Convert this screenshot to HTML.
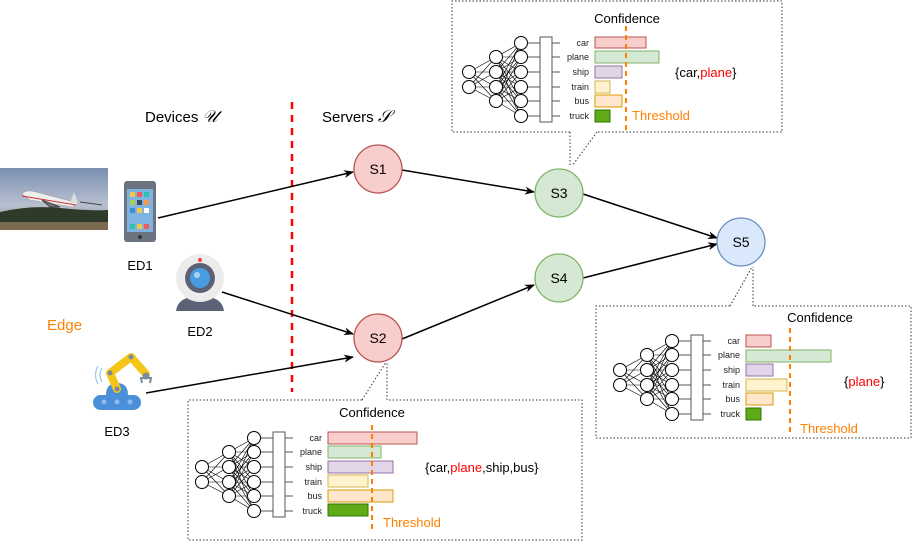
<!DOCTYPE html>
<html><head><meta charset="utf-8"><style>
html,body{margin:0;padding:0;background:#fff;}
svg{display:block;font-family:"Liberation Sans",sans-serif;}
</style></head><body>
<svg width="913" height="542" viewBox="0 0 913 542" xmlns="http://www.w3.org/2000/svg">
<defs>
<marker id="ah" markerWidth="10" markerHeight="8" refX="9" refY="4" orient="auto" markerUnits="userSpaceOnUse">
<path d="M0,0 L10,4 L0,8 L3,4 Z" fill="#000"/>
</marker>
<g id="nn" stroke="#000" stroke-width="0.6" fill="none">
<path d="M-126,30 L-99,15 M-126,30 L-99,30 M-126,30 L-99,45 M-126,30 L-99,59 M-126,45 L-99,15 M-126,45 L-99,30 M-126,45 L-99,45 M-126,45 L-99,59"/>
<path d="M-99,15 L-74,1 M-99,15 L-74,15 M-99,15 L-74,30 M-99,15 L-74,45 M-99,15 L-74,59 M-99,15 L-74,74
M-99,30 L-74,1 M-99,30 L-74,15 M-99,30 L-74,30 M-99,30 L-74,45 M-99,30 L-74,59 M-99,30 L-74,74
M-99,45 L-74,1 M-99,45 L-74,15 M-99,45 L-74,30 M-99,45 L-74,45 M-99,45 L-74,59 M-99,45 L-74,74
M-99,59 L-74,1 M-99,59 L-74,15 M-99,59 L-74,30 M-99,59 L-74,45 M-99,59 L-74,59 M-99,59 L-74,74"/>
<path stroke="#555" stroke-width="1" d="M-74,1 L-55,1 M-74,15 L-55,15 M-74,30 L-55,30 M-74,45 L-55,45 M-74,59 L-55,59 M-74,74 L-55,74 M-43,1 L-35,1 M-43,15 L-35,15 M-43,30 L-35,30 M-43,45 L-35,45 M-43,59 L-35,59 M-43,74 L-35,74"/>
<g fill="#fff" stroke="#000" stroke-width="1">
<circle cx="-126" cy="30" r="6.5"/><circle cx="-126" cy="45" r="6.5"/>
<circle cx="-99" cy="15" r="6.5"/><circle cx="-99" cy="30" r="6.5"/><circle cx="-99" cy="45" r="6.5"/><circle cx="-99" cy="59" r="6.5"/>
<circle cx="-74" cy="1" r="6.5"/><circle cx="-74" cy="15" r="6.5"/><circle cx="-74" cy="30" r="6.5"/><circle cx="-74" cy="45" r="6.5"/><circle cx="-74" cy="59" r="6.5"/><circle cx="-74" cy="74" r="6.5"/>
<rect x="-55" y="-5" width="12" height="85" stroke="#555"/>
</g>
<g fill="#222" stroke="none" font-size="9" text-anchor="end">
<text x="-6" y="4">car</text><text x="-6" y="18">plane</text><text x="-6" y="33">ship</text><text x="-6" y="48">train</text><text x="-6" y="62">bus</text><text x="-6" y="77">truck</text>
</g>
</g>
</defs>

<!-- Panel 1 -->
<path d="M570,132 L452,132 L452,1 L782,1 L782,132 L597,132" fill="none" stroke="#333" stroke-dasharray="1.5,2"/>
<path d="M570,132 L570,166 M597,132 L572,166" fill="none" stroke="#333" stroke-dasharray="1.5,2"/>
<g transform="translate(595,42)">
<use href="#nn"/>
<rect x="0" y="-5" width="51" height="11" fill="#f8cecc" stroke="#b85450"/>
<rect x="0" y="9" width="64" height="12" fill="#d5e8d4" stroke="#82b366"/>
<rect x="0" y="24" width="27" height="12" fill="#e1d5e7" stroke="#9673a6"/>
<rect x="0" y="39" width="15" height="12" fill="#fff2cc" stroke="#d6b656"/>
<rect x="0" y="53" width="27" height="12" fill="#ffe6cc" stroke="#d79b00"/>
<rect x="0" y="68" width="15" height="12" fill="#60a917" stroke="#2d7600"/>
</g>
<line x1="626" y1="26" x2="626" y2="132" stroke="#ff8000" stroke-width="2" stroke-dasharray="5,4"/>
<text x="627" y="23" font-size="13" text-anchor="middle">Confidence</text>
<text x="675" y="77" font-size="13">{car,<tspan fill="#ff0000">plane</tspan>}</text>
<text x="632" y="120" font-size="13" fill="#ff8000">Threshold</text>

<!-- Panel 2 -->
<path d="M362,400 L188,400 L188,540 L582,540 L582,400 L387,400" fill="none" stroke="#333" stroke-dasharray="1.5,2"/>
<path d="M362,400 L386,362 M387,400 L387,363" fill="none" stroke="#333" stroke-dasharray="1.5,2"/>
<g transform="translate(328,437)">
<use href="#nn"/>
<rect x="0" y="-5" width="89" height="12" fill="#f8cecc" stroke="#b85450"/>
<rect x="0" y="9" width="53" height="12" fill="#d5e8d4" stroke="#82b366"/>
<rect x="0" y="24" width="65" height="12" fill="#e1d5e7" stroke="#9673a6"/>
<rect x="0" y="38" width="40" height="12" fill="#fff2cc" stroke="#d6b656"/>
<rect x="0" y="53" width="65" height="12" fill="#ffe6cc" stroke="#d79b00"/>
<rect x="0" y="67" width="40" height="12" fill="#60a917" stroke="#2d7600"/>
</g>
<line x1="372" y1="425" x2="372" y2="530" stroke="#ff8000" stroke-width="2" stroke-dasharray="5,4"/>
<text x="372" y="417" font-size="13" text-anchor="middle">Confidence</text>
<text x="425" y="472" font-size="13">{car,<tspan fill="#ff0000">plane</tspan>,ship,bus}</text>
<text x="383" y="527" font-size="13" fill="#ff8000">Threshold</text>

<!-- Panel 3 -->
<path d="M730,306 L596,306 L596,438 L911,438 L911,306 L753,306" fill="none" stroke="#333" stroke-dasharray="1.5,2"/>
<path d="M730,306 L752,267 M753,306 L753,267" fill="none" stroke="#333" stroke-dasharray="1.5,2"/>
<g transform="translate(746,340)">
<use href="#nn"/>
<rect x="0" y="-5" width="25" height="12" fill="#f8cecc" stroke="#b85450"/>
<rect x="0" y="10" width="85" height="12" fill="#d5e8d4" stroke="#82b366"/>
<rect x="0" y="24" width="27" height="12" fill="#e1d5e7" stroke="#9673a6"/>
<rect x="0" y="39" width="41" height="12" fill="#fff2cc" stroke="#d6b656"/>
<rect x="0" y="53" width="27" height="12" fill="#ffe6cc" stroke="#d79b00"/>
<rect x="0" y="68" width="15" height="12" fill="#60a917" stroke="#2d7600"/>
</g>
<line x1="790" y1="328" x2="790" y2="432" stroke="#ff8000" stroke-width="2" stroke-dasharray="5,4"/>
<text x="820" y="322" font-size="13" text-anchor="middle">Confidence</text>
<text x="844" y="386" font-size="13">{<tspan fill="#ff0000">plane</tspan>}</text>
<text x="800" y="433" font-size="13" fill="#ff8000">Threshold</text>

<!-- Red divider -->
<line x1="292" y1="102" x2="292" y2="392" stroke="#ff0000" stroke-width="2.5" stroke-dasharray="7,6"/>

<!-- headers -->
<text x="145" y="122" font-size="15">Devices <tspan font-family="Liberation Serif,serif" font-style="italic" font-size="17">𝒰</tspan></text>
<text x="322" y="122" font-size="15">Servers <tspan font-family="Liberation Serif,serif" font-style="italic" font-size="17">𝒮</tspan></text>
<text x="47" y="330" font-size="15" fill="#ff8000">Edge</text>
<text x="140" y="270" font-size="13" text-anchor="middle">ED1</text>
<text x="200" y="336" font-size="13" text-anchor="middle">ED2</text>
<text x="117" y="436" font-size="13" text-anchor="middle">ED3</text>

<!-- airplane photo -->
<defs><linearGradient id="sky" x1="0" y1="0" x2="0" y2="1"><stop offset="0" stop-color="#7a8fb0"/><stop offset="0.6" stop-color="#b8c0d0"/><stop offset="1" stop-color="#8a8a80"/></linearGradient></defs>
<rect x="0" y="168" width="108" height="62" fill="url(#sky)"/>
<path d="M0,212 Q30,205 60,208 T108,210 L108,230 L0,230 Z" fill="#2e3a2a"/>
<rect x="0" y="222" width="108" height="8" fill="#7a6a50"/>
<path d="M22,194 Q26,189 36,192 L78,203 L72,207 L30,200 Z" fill="#eee" stroke="#999" stroke-width="0.5"/>
<path d="M22,196 L76,205" stroke="#c33" stroke-width="1"/>
<path d="M70,203 L74,192 L78,203 Z" fill="#ddd"/>
<path d="M42,200 L60,207 L50,207 Z M80,202 L102,205" stroke="#444" fill="#777" stroke-width="1"/>

<!-- phone -->
<rect x="124" y="181" width="32" height="61" rx="3" fill="#6b7280"/>
<rect x="127" y="189" width="26" height="43" fill="#7fb3e0"/>
<g>
<rect x="130" y="192" width="5" height="5" fill="#f5c84a"/><rect x="137" y="192" width="5" height="5" fill="#ef5a5a"/><rect x="144" y="192" width="5" height="5" fill="#2bc1b5"/>
<rect x="130" y="200" width="5" height="5" fill="#a6d05a"/><rect x="137" y="200" width="5" height="5" fill="#3b4a5c"/><rect x="144" y="200" width="5" height="5" fill="#f59a4a"/>
<rect x="130" y="208" width="5" height="5" fill="#3b8fd9"/><rect x="137" y="208" width="5" height="5" fill="#f5c84a"/><rect x="144" y="208" width="5" height="5" fill="#fff"/>
<rect x="130" y="224" width="5" height="5" fill="#2bc1b5"/><rect x="137" y="224" width="5" height="5" fill="#f5c84a"/><rect x="144" y="224" width="5" height="5" fill="#ef5a5a"/>
</g>
<circle cx="140" cy="237" r="2" fill="#333"/>

<!-- webcam -->
<path d="M176,311 Q178,296 200,296 Q222,296 224,311 Z" fill="#5b6275"/>
<circle cx="200" cy="278" r="24" fill="#ececec"/>
<circle cx="200" cy="278" r="15" fill="#5b6275"/>
<circle cx="200" cy="278" r="10" fill="#4a9be0"/>
<circle cx="197" cy="275" r="3" fill="#a8d4f7"/>
<circle cx="200" cy="260" r="2" fill="#ef4444"/>

<!-- robot arm -->
<rect x="93" y="395" width="48" height="15" rx="7.5" fill="#4a90d9"/>
<circle cx="104" cy="402" r="2.5" fill="#8bbcf0"/><circle cx="117" cy="402" r="2.5" fill="#8bbcf0"/><circle cx="130" cy="402" r="2.5" fill="#8bbcf0"/>
<path d="M106,395 Q106,383 117,383 Q128,383 128,395 Z" fill="#4a90d9"/>
<path d="M117,389 L110,373 L131,357 L146,374" stroke="#f5c518" stroke-width="8" fill="none" stroke-linecap="round" stroke-linejoin="round"/>
<circle cx="117" cy="389" r="2.5" fill="#7a8a9a"/><circle cx="110" cy="373" r="2.5" fill="#7a8a9a"/><circle cx="131" cy="357" r="2.5" fill="#7a8a9a"/>
<circle cx="146" cy="376" r="3.5" fill="#7a8a9a"/>
<path d="M142,383 L141,378 L151,378 L150,383" stroke="#7a8a9a" stroke-width="2" fill="none"/>
<path d="M102,368 Q98,375 102,382 M98,366 Q93,375 98,384" stroke="#9cc6ee" stroke-width="1.2" fill="none"/>

<!-- edges -->
<g stroke="#000" stroke-width="1.5" fill="none" marker-end="url(#ah)">
<line x1="158" y1="218" x2="353" y2="172"/>
<line x1="222" y1="292" x2="353" y2="334"/>
<line x1="146" y1="393" x2="353" y2="357"/>
<line x1="402" y1="170" x2="534" y2="192"/>
<line x1="402" y1="339" x2="534" y2="285"/>
<line x1="583" y1="194" x2="717" y2="238"/>
<line x1="583" y1="278" x2="717" y2="244"/>
</g>

<!-- nodes -->
<g font-size="14" text-anchor="middle" stroke-width="1.3">
<circle cx="378" cy="169" r="24" fill="#f8cecc" stroke="#b85450"/><text x="378" y="174">S1</text>
<circle cx="378" cy="338" r="24" fill="#f8cecc" stroke="#b85450"/><text x="378" y="343">S2</text>
<circle cx="559" cy="193" r="24" fill="#d5e8d4" stroke="#82b366"/><text x="559" y="198">S3</text>
<circle cx="559" cy="278" r="24" fill="#d5e8d4" stroke="#82b366"/><text x="559" y="283">S4</text>
<circle cx="741" cy="242" r="24" fill="#dae8fc" stroke="#6c8ebf"/><text x="741" y="247">S5</text>
</g>
</svg>
</body></html>
